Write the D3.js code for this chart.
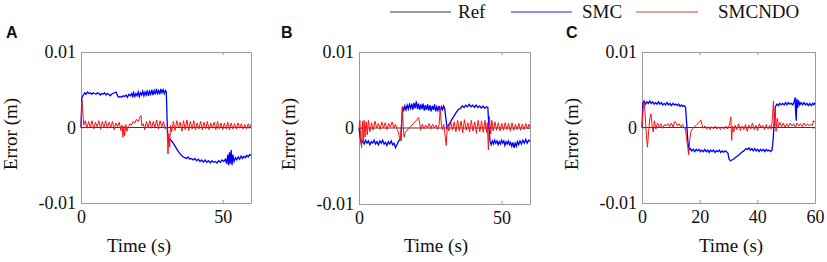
<!DOCTYPE html>
<html>
<head>
<meta charset="utf-8">
<script src="https://cdn.jsdelivr.net/npm/d3@7"></script>
<style>
  body { margin: 0; background: #fff; }
  svg text { font-family: "Liberation Serif", "Times New Roman", serif; fill: #111; }
  svg text.letter { font-family: "Liberation Sans", Arial, sans-serif; font-weight: bold; }
</style>
</head>
<body>
<div id="chart"></div>
<script>
// error values in mm, [time (s), error (mm)]
var blueA = [[0,0],[0.3,3.9],[0.8,4.3],[1.3,4.6],[1.8,4.4],[2.3,4.7],[2.8,4.5],[3.3,4.6],[3.8,4.4],[4.3,4.6],[4.8,4.5],[5.3,4.4],[5.8,4.6],[6.3,4.5],[6.8,4.3],[7.3,4.5],[7.8,4.4],[8.3,4.6],[8.8,4.3],[9.3,4.5],[9.8,4.4],[10.3,4.2],[10.8,4.4],[11.3,4.5],[11.8,4.6],[12.4,4.7],[12.9,4.2],[13.4,4.0],[13.9,4.1],[14.4,4.0],[14.9,4.2],[15.4,4.1],[15.9,4.3],[16.4,4.0],[16.9,4.4],[17.4,4.2],[17.9,4.5],[18.2,4.0],[18.6,4.6],[19.0,4.1],[19.4,4.5],[19.8,4.2],[20.2,4.7],[20.6,4.1],[21.0,4.6],[21.4,4.3],[21.8,4.8],[22.2,4.2],[22.6,4.7],[23.0,4.3],[23.4,4.9],[23.8,4.2],[24.2,4.8],[24.6,4.4],[25.0,5.0],[25.4,4.3],[25.8,4.9],[26.2,4.4],[26.6,5.1],[27.0,4.5],[27.4,4.9],[27.8,4.4],[28.2,5.1],[28.6,4.6],[29.0,5.0],[29.4,4.5],[29.8,4.9],[30.1,4.7],[30.4,1.0],[30.6,-1.3],[31.0,-1.5],[31.8,-1.7],[32.6,-2.1],[33.4,-2.6],[34.2,-3.1],[35.0,-3.5],[35.8,-3.8],[36.6,-4.0],[37.2,-4.1],[37.8,-3.9],[38.4,-4.2],[39.0,-4.1],[39.6,-4.3],[40.2,-4.1],[40.8,-4.4],[41.4,-4.2],[42.0,-4.5],[42.6,-4.3],[43.2,-4.6],[43.8,-4.3],[44.4,-4.6],[45.0,-4.4],[45.6,-4.7],[46.2,-4.4],[46.8,-4.6],[47.4,-4.5],[48.0,-4.7],[48.6,-4.4],[49.2,-4.6],[49.8,-4.3],[50.4,-4.5],[51.0,-4.2],[51.4,-4.8],[51.8,-3.6],[52.1,-5.0],[52.4,-3.3],[52.7,-4.8],[53.0,-3.0],[53.3,-5.0],[53.6,-3.6],[54.0,-4.5],[54.5,-4.0],[55.0,-4.3],[55.5,-3.9],[56.0,-4.2],[56.5,-3.8],[57.0,-4.1],[57.5,-3.8],[58.0,-4.0],[58.5,-3.7],[59.0,-3.9],[59.5,-3.6],[60,-3.7]];
var redA = [[0,0],[0.3,3.6],[0.7,1.8],[1.0,0.3],[1.5,0.9],[2.1,-0.1],[2.7,0.8],[3.3,0.0],[3.9,0.9],[4.5,-0.2],[5.1,0.7],[5.7,0.1],[6.3,0.9],[6.9,-0.2],[7.5,0.8],[8.1,0.0],[8.7,0.9],[9.3,-0.1],[9.9,0.7],[10.5,0.0],[11.1,0.8],[11.7,-0.3],[12.3,0.6],[12.9,0.1],[13.5,0.7],[14.1,-0.4],[14.5,0.3],[14.8,-1.3],[15.1,0.2],[15.4,-1.1],[15.8,0.4],[16.2,-0.5],[16.7,0.1],[17.3,0.5],[17.8,0.3],[18.4,0.8],[19.0,0.6],[19.6,1.1],[20.2,0.8],[20.8,1.4],[21.2,1.6],[21.5,0.2],[22.0,0.5],[22.5,-0.3],[23.1,0.8],[23.7,0.0],[24.3,0.9],[24.9,-0.1],[25.5,0.8],[26.1,0.0],[26.7,1.0],[27.3,-0.2],[27.9,0.9],[28.5,0.1],[29.1,0.8],[29.7,-0.2],[30.4,0.1],[30.7,-3.5],[31.0,-0.8],[31.3,-2.6],[31.6,0.3],[32.0,-0.6],[32.6,0.8],[33.2,-0.4],[33.8,0.9],[34.4,0.0],[35.0,0.7],[35.6,-0.5],[36.2,0.9],[36.8,-0.3],[37.4,1.0],[38.0,-0.4],[38.6,0.8],[39.2,-0.2],[39.8,0.9],[40.4,-0.3],[41.0,0.6],[41.6,-0.2],[42.2,0.8],[42.8,-0.3],[43.4,0.7],[44.0,-0.2],[44.6,0.8],[45.2,-0.3],[45.8,0.6],[46.4,-0.1],[47.0,0.7],[47.6,-0.3],[48.2,0.8],[48.8,-0.2],[49.4,0.6],[50.0,-0.3],[50.6,0.6],[51.2,-0.2],[51.8,0.7],[52.4,-0.3],[53.0,0.6],[53.6,-0.2],[54.2,0.5],[54.8,-0.2],[55.4,0.6],[56.0,-0.1],[56.6,0.5],[57.2,-0.2],[57.8,0.4],[58.4,-0.2],[59.0,0.5],[59.5,0.0],[60,0.4]];

var blueB = [[0,0],[0.4,-1.2],[0.8,-2.0],[1.3,-1.7],[1.8,-2.1],[2.3,-1.6],[2.8,-2.0],[3.3,-1.7],[3.8,-2.2],[4.3,-1.8],[4.8,-2.0],[5.3,-1.6],[5.8,-2.1],[6.3,-1.8],[6.8,-2.2],[7.3,-1.7],[7.8,-2.0],[8.3,-1.6],[8.8,-2.1],[9.3,-1.9],[9.8,-2.3],[10.3,-1.8],[10.8,-2.1],[11.3,-1.7],[11.8,-2.2],[12.3,-2.0],[12.8,-2.6],[13.3,-2.2],[13.8,-1.8],[14.3,-1.5],[14.7,-1.6],[15.0,1.0],[15.3,2.8],[15.7,2.3],[16.1,2.9],[16.5,2.4],[16.9,3.0],[17.3,2.5],[17.7,3.1],[18.1,2.6],[18.5,3.2],[18.9,2.4],[19.3,3.3],[19.7,2.6],[20.1,3.5],[20.5,2.5],[20.9,3.2],[21.3,2.4],[21.7,3.1],[22.1,2.5],[22.5,3.2],[22.9,2.3],[23.3,3.0],[23.7,2.4],[24.1,3.1],[24.5,2.3],[24.9,3.0],[25.3,2.2],[25.7,2.9],[26.1,2.4],[26.5,3.1],[26.9,2.2],[27.3,2.8],[27.7,2.3],[28.1,2.9],[28.5,2.2],[28.9,2.8],[29.3,2.4],[29.7,2.9],[30.1,2.5],[30.5,1.2],[30.9,0.0],[31.6,0.5],[32.4,1.0],[33.2,1.5],[34.0,2.0],[34.8,2.4],[35.6,2.6],[36.3,2.9],[36.9,2.7],[37.5,3.0],[38.1,2.8],[38.7,3.1],[39.3,2.8],[39.9,3.0],[40.5,2.7],[41.1,3.0],[41.7,2.7],[42.3,2.9],[42.9,2.6],[43.5,2.9],[44.1,2.6],[44.7,2.8],[45.2,2.7],[45.6,0.0],[46.0,-1.8],[46.4,-2.2],[46.8,-1.7],[47.2,-2.1],[47.6,-1.6],[48.0,-2.0],[48.4,-1.7],[48.8,-2.2],[49.2,-1.8],[49.6,-2.1],[50.0,-1.6],[50.4,-2.0],[50.8,-1.7],[51.2,-2.3],[51.6,-1.8],[52.0,-2.1],[52.4,-1.7],[52.8,-2.2],[53.2,-1.9],[53.6,-2.4],[54.0,-1.9],[54.4,-2.6],[54.8,-2.0],[55.2,-2.4],[55.6,-1.8],[56.0,-2.2],[56.5,-1.7],[57.0,-2.1],[57.5,-1.6],[58.0,-2.0],[58.5,-1.5],[59.0,-2.0],[59.5,-1.6],[60,-1.8]];
var redB = [[0,0],[0.3,1.0],[0.6,-1.5],[0.9,-2.6],[1.2,0.9],[1.5,-2.0],[1.8,1.0],[2.1,-1.2],[2.5,0.8],[2.9,-0.9],[3.3,1.0],[3.8,-0.5],[4.4,0.7],[5.0,-0.3],[5.6,0.9],[6.2,0.0],[6.8,0.6],[7.4,-0.2],[8.0,0.8],[8.6,0.0],[9.2,0.7],[9.8,-0.2],[10.4,0.6],[11.0,0.1],[11.6,0.8],[12.2,0.0],[12.8,0.5],[13.4,-0.2],[13.8,-0.5],[14.1,-1.0],[14.5,-1.6],[14.9,0.5],[15.2,2.8],[15.5,0.2],[15.8,-1.2],[16.2,-0.6],[16.8,-0.3],[17.4,-0.1],[18.0,0.2],[18.6,0.4],[19.2,0.6],[19.8,0.9],[20.4,1.1],[20.9,1.4],[21.3,0.6],[21.6,-0.3],[22.2,0.5],[22.8,-0.1],[23.4,0.4],[24.0,0.0],[24.6,0.6],[25.2,-0.1],[25.8,0.5],[26.4,0.0],[27.0,0.4],[27.6,-0.2],[28.1,0.4],[28.5,2.6],[28.9,0.4],[29.3,-0.2],[29.7,0.5],[30.1,-0.6],[30.6,-2.3],[31.0,0.3],[31.6,-0.4],[32.2,0.9],[32.8,-0.3],[33.4,0.8],[34.0,-0.5],[34.6,1.0],[35.2,-0.4],[35.8,0.9],[36.4,-0.6],[37.0,1.1],[37.6,-0.3],[38.2,0.7],[38.8,-0.5],[39.4,1.0],[40.0,-0.4],[40.6,0.8],[41.2,-0.7],[41.8,1.0],[42.4,-0.5],[43.0,0.9],[43.6,-0.6],[44.2,1.0],[44.7,-0.6],[45.0,0.7],[45.4,-2.9],[45.8,1.5],[46.2,-0.8],[46.6,1.0],[47.1,-0.4],[47.7,0.8],[48.3,-0.3],[48.9,0.7],[49.5,-0.4],[50.1,0.6],[50.7,-0.3],[51.3,0.7],[51.9,-0.2],[52.5,0.6],[53.1,-0.4],[53.7,0.7],[54.3,-0.3],[54.9,0.5],[55.5,-0.2],[56.1,0.6],[56.7,-0.3],[57.3,0.5],[57.9,-0.2],[58.5,0.6],[59.1,-0.1],[59.6,0.5],[60,0.1]];

var blueC = [[0,0],[0.3,3.2],[0.7,3.5],[1.2,3.1],[1.7,3.4],[2.2,3.2],[2.7,3.5],[3.2,3.2],[3.7,3.4],[4.2,3.1],[4.7,3.3],[5.2,3.1],[5.7,3.4],[6.2,3.1],[6.7,3.3],[7.2,3.0],[7.7,3.2],[8.2,3.0],[8.7,3.3],[9.2,3.0],[9.7,3.2],[10.2,2.9],[10.7,3.2],[11.2,3.0],[11.7,3.1],[12.2,2.9],[12.7,3.1],[13.2,2.8],[13.7,3.0],[14.2,2.8],[14.7,2.9],[15.1,2.7],[15.5,0.5],[15.9,-1.8],[16.3,-3.0],[16.8,-2.8],[17.3,-3.1],[17.8,-2.9],[18.3,-3.2],[18.8,-2.9],[19.3,-3.1],[19.8,-2.9],[20.3,-3.2],[20.8,-3.0],[21.3,-3.2],[21.8,-2.9],[22.3,-3.2],[22.8,-3.0],[23.3,-3.3],[23.8,-3.0],[24.3,-3.2],[24.8,-3.0],[25.3,-3.3],[25.8,-3.1],[26.3,-3.2],[26.8,-3.0],[27.3,-3.3],[27.8,-3.1],[28.3,-3.3],[28.8,-3.1],[29.3,-3.2],[29.8,-3.4],[30.2,-4.2],[30.7,-4.4],[31.2,-4.3],[31.7,-4.2],[32.3,-4.0],[33.0,-3.8],[33.7,-3.6],[34.5,-3.3],[35.3,-3.1],[36.1,-2.8],[36.6,-2.9],[37.1,-2.7],[37.6,-3.0],[38.1,-2.8],[38.6,-3.1],[39.1,-2.8],[39.6,-3.1],[40.1,-2.9],[40.6,-3.2],[41.1,-2.9],[41.6,-3.1],[42.1,-2.9],[42.6,-3.2],[43.1,-2.9],[43.6,-3.1],[44.1,-3.0],[44.6,-3.2],[45.1,-3.0],[45.5,-1.5],[45.9,1.0],[46.3,2.8],[46.8,3.1],[47.3,2.9],[47.8,3.2],[48.3,3.0],[48.8,3.2],[49.3,3.0],[49.8,3.3],[50.3,3.0],[50.8,3.3],[51.3,3.1],[51.8,3.2],[52.3,3.0],[52.8,3.4],[53.1,4.0],[53.3,2.0],[53.5,0.9],[53.7,3.8],[54.0,2.6],[54.3,3.6],[54.7,3.0],[55.2,3.3],[55.7,3.0],[56.2,3.3],[56.7,3.0],[57.2,3.2],[57.7,2.9],[58.2,3.2],[58.7,2.9],[59.2,3.2],[59.6,3.0],[60,3.3]];
var redC = [[0,0],[0.4,2.5],[0.8,3.3],[1.2,1.0],[1.6,-1.5],[1.9,-2.6],[2.3,-0.5],[2.7,1.2],[3.1,1.8],[3.5,0.3],[3.9,-0.6],[4.3,0.9],[4.8,-0.2],[5.4,0.6],[6.0,0.0],[6.6,0.5],[7.2,-0.1],[7.8,0.4],[8.4,0.2],[9.0,0.5],[9.6,0.1],[10.2,0.6],[10.8,0.0],[11.3,0.8],[11.8,0.6],[12.3,0.2],[12.9,0.5],[13.5,0.1],[14.1,0.4],[14.6,-0.1],[15.0,0.0],[15.4,-1.2],[15.8,-2.4],[16.2,-3.6],[16.6,-1.5],[17.0,-0.5],[17.5,-0.2],[18.0,0.0],[18.5,0.2],[19.0,0.4],[19.5,0.6],[20.0,0.8],[20.4,1.0],[20.8,0.4],[21.2,-0.1],[21.8,0.2],[22.4,-0.2],[23.0,0.1],[23.6,-0.3],[24.2,0.1],[24.8,-0.2],[25.4,0.2],[26.0,-0.2],[26.6,0.1],[27.2,-0.3],[27.8,0.1],[28.4,-0.2],[29.0,0.2],[29.6,-0.2],[30.0,0.0],[30.4,0.5],[30.8,1.4],[31.1,-1.7],[31.4,0.2],[31.8,-0.6],[32.3,0.3],[32.9,-0.3],[33.5,0.5],[34.1,-0.4],[34.7,0.2],[35.3,-0.3],[35.9,0.4],[36.5,-0.5],[37.1,0.3],[37.7,-0.2],[38.3,0.6],[38.9,-0.3],[39.5,0.3],[40.1,-0.4],[40.7,0.5],[41.3,0.0],[41.9,0.3],[42.5,-0.3],[43.1,0.4],[43.7,-0.2],[44.3,0.3],[44.8,-0.2],[45.0,0.3],[45.3,1.8],[45.6,3.5],[45.9,0.2],[46.2,2.6],[46.5,-0.5],[46.9,1.2],[47.3,0.0],[47.8,0.7],[48.4,0.1],[49.0,0.6],[49.6,0.0],[50.2,0.5],[50.8,0.1],[51.4,0.6],[52.0,0.2],[52.6,0.5],[53.2,0.0],[53.8,0.6],[54.4,0.2],[55.0,0.5],[55.6,0.1],[56.2,0.6],[56.8,0.2],[57.4,0.5],[58.0,0.2],[58.6,0.4],[59.1,0.3],[59.5,0.9],[60,0.7]];

var yTicks = [-0.01, 0, 0.01];
var yTickLabels = ["-0.01", "0", "0.01"];
var xTicksAB = [0, 50];
var xTicksC = [0, 20, 40, 60];
var legendNames = ["Ref", "SMC", "SMCNDO"];

var width = 827, height = 262;

var svg = d3.select("#chart")
  .append("svg")
  .attr("width", width)
  .attr("height", height);

// panel boxes
var panels = [
  {letter: "A", blue: blueA, red: redA, ticks: xTicksAB, left: 81, right: 251, top: 52, bottom: 203, letterX: 6, timeX: 139},
  {letter: "B", blue: blueB, red: redB, ticks: xTicksAB, left: 359, right: 530, top: 52, bottom: 204, letterX: 281, timeX: 436},
  {letter: "C", blue: blueC, red: redC, ticks: xTicksC, left: 642, right: 815, top: 52, bottom: 203, letterX: 566, timeX: 731}
];

panels.forEach(function(p) { drawPanel(p); });

// legend
var legendItems = [
  {name: legendNames[0], colour: "#7a7a7a", x1: 390, x2: 451, tx: 458},
  {name: legendNames[1], colour: "#6a6aee", x1: 511, x2: 572, tx: 582},
  {name: legendNames[2], colour: "#e87b7b", x1: 636, x2: 698, tx: 718}
];
legendItems.forEach(function(d) {
  svg.append("line")
    .attr("x1", d.x1).attr("x2", d.x2)
    .attr("y1", 12).attr("y2", 12)
    .style("stroke", d.colour)
    .style("stroke-width", 1.3);
  svg.append("text")
    .attr("x", d.tx).attr("y", 18)
    .style("font-size", "19px")
    .text(d.name);
});

function drawPanel(p) {
  var x_scale = d3.scaleLinear().domain([0, 60]).range([p.left, p.right]);
  var y_scale = d3.scaleLinear().domain([-0.01, 0.01]).range([p.bottom, p.top]);

  var g = svg.append("g");

  var fmt = function(d) { return yTickLabels[yTicks.indexOf(d)]; };

  // box with inward ticks
  g.append("g")
    .attr("transform", "translate(0," + p.bottom + ")")
    .call(d3.axisBottom(x_scale).tickValues(p.ticks).tickSizeInner(-3).tickSizeOuter(0).tickPadding(7).tickFormat(d3.format("d")))
    .call(styleAxis);
  g.append("g")
    .attr("transform", "translate(0," + p.top + ")")
    .call(d3.axisTop(x_scale).tickValues(p.ticks).tickSizeInner(-3).tickSizeOuter(0).tickFormat(""))
    .call(styleAxis);
  g.append("g")
    .attr("transform", "translate(" + p.left + ",0)")
    .call(d3.axisLeft(y_scale).tickValues(yTicks).tickSizeInner(-3).tickSizeOuter(0).tickPadding(5).tickFormat(fmt))
    .call(styleAxis);
  g.append("g")
    .attr("transform", "translate(" + p.right + ",0)")
    .call(d3.axisRight(y_scale).tickValues(yTicks).tickSizeInner(-3).tickSizeOuter(0).tickFormat(""))
    .call(styleAxis);

  var line = d3.line()
    .x(function(d) { return x_scale(d[0]); })
    .y(function(d) { return y_scale(d[1] / 1000); }); // mm -> m

  // reference line
  g.append("path")
    .datum([[0, 0], [60, 0]])
    .attr("d", line)
    .style("fill", "none")
    .style("stroke", "#3a3a3a")
    .style("stroke-width", 1.2);

  g.append("path")
    .datum(p.blue)
    .attr("d", line)
    .style("fill", "none")
    .style("stroke", "#0000ff")
    .style("stroke-width", 1.3);

  g.append("path")
    .datum(p.red)
    .attr("d", line)
    .style("fill", "none")
    .style("stroke", "#ff1010")
    .style("stroke-width", 1);

  // labels
  g.append("text")
    .attr("class", "letter")
    .attr("x", p.letterX).attr("y", 38)
    .style("font-size", "16px")
    .text(p.letter);

  g.append("text")
    .attr("x", p.timeX).attr("y", 252)
    .attr("text-anchor", "middle")
    .style("font-size", "19px")
    .text("Time (s)");

  g.append("text")
    .attr("transform", "translate(" + (p.left - 64) + ",134) rotate(-90)")
    .attr("text-anchor", "middle")
    .style("font-size", "19px")
    .text("Error (m)");
}

function styleAxis(sel) {
  sel.attr("font-family", null).attr("font-size", null);
  sel.select(".domain").style("stroke", "#9a9a9a");
  sel.selectAll(".tick line").style("stroke", "#9a9a9a");
  sel.selectAll(".tick text")
    .style("font-family", "'Liberation Serif', serif")
    .style("font-size", "18px")
    .style("fill", "#111");
}
</script>
</body>
</html>
